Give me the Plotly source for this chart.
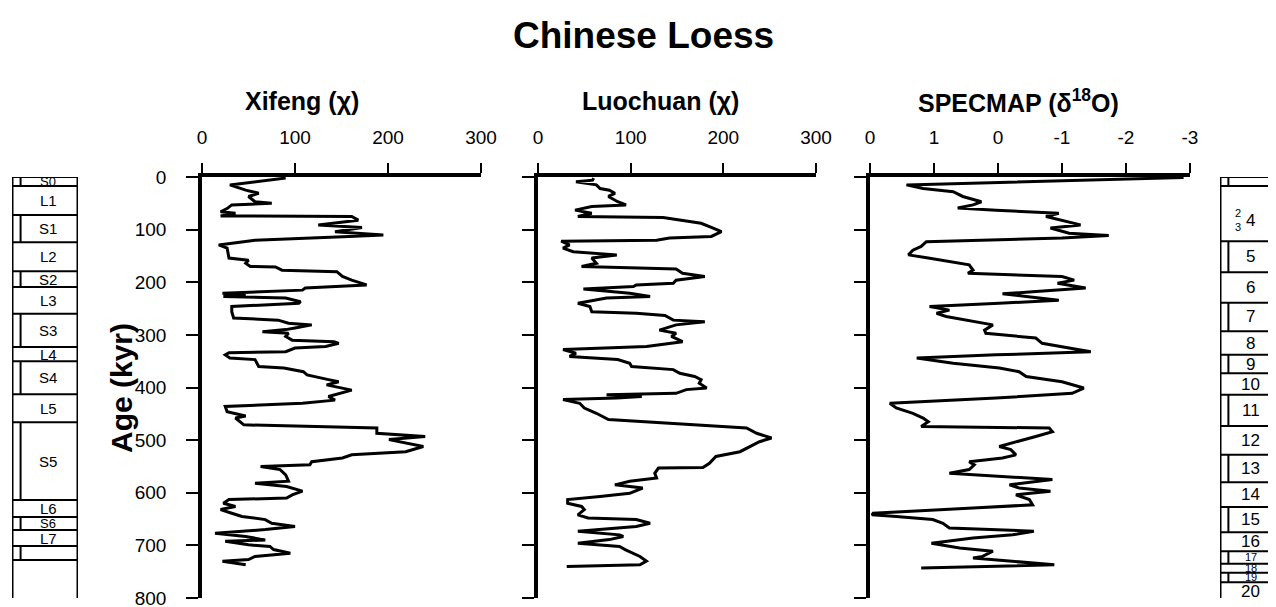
import plotly.graph_objects as go

# ---------------- data ----------------
xifeng_age = [2, 12, 15, 25, 31, 37, 47, 50, 53, 60, 66, 69, 74, 75, 82, 91, 96, 104, 107, 110, 113, 120, 129, 135,
              154, 158, 164, 170, 171, 177, 180, 189, 196, 205, 211, 215, 221, 224, 227, 230, 237, 240, 246, 256,
              268, 272, 278, 281, 287, 290, 294, 297, 303, 310, 313, 316, 322, 325, 332, 334, 338, 344, 347, 354,
              360, 363, 370, 376, 379, 385, 389, 395, 405, 411, 417, 424, 430, 436, 446, 454, 458, 471, 477, 487,
              493, 499, 506, 512, 522, 528, 534, 541, 547, 550, 556, 566, 578, 582, 588, 597, 604, 610, 613, 620,
              626, 632, 639, 645, 651, 658, 664, 670, 677, 683, 690, 692, 699, 702, 708, 715, 721, 727, 730, 737]
xifeng_chi = [90, 45, 30, 47, 61, 50, 57, 75, 32, 27, 20, 36, 20, 161, 168, 125, 172, 143, 174, 195, 158, 57, 18, 27,
              29, 50, 47, 52, 79, 86, 145, 151, 161, 177, 111, 108, 22, 47, 23, 90, 106, 104, 32, 32,
              34, 82, 93, 118, 100, 90, 65, 93, 90, 97, 142, 147, 133, 100, 90, 29, 25, 30, 57, 59,
              61, 88, 109, 113, 122, 136, 147, 134, 161, 147, 136, 143, 108, 25, 27, 47, 36, 45, 188, 188,
              240, 201, 222, 238, 219, 161, 151, 118, 116, 63, 84, 90, 93, 57, 91, 108, 97, 91, 29, 23,
              36, 20, 32, 43, 68, 75, 100, 68, 14, 47, 68, 25, 50, 73, 77, 95, 57, 50, 22, 47]

luochuan_age = [2, 6, 9, 15, 22, 25, 31, 37, 47, 53, 56, 63, 69, 75, 77, 82, 88, 97, 104, 113, 116, 120, 122, 129,
                135, 142, 148, 154, 164, 170, 175, 183, 189, 196, 202, 205, 208, 213, 221, 227, 230, 240, 246,
                256, 259, 263, 272, 275, 281, 291, 297, 303, 313, 322, 328, 335, 341, 347, 354, 360, 366, 373,
                379, 385, 392, 401, 404, 411, 414, 417, 420, 423, 430, 439, 449, 461, 477, 487, 496, 503, 522,
                531, 544, 552, 553, 563, 572, 578, 585, 591, 601, 607, 613, 620, 626, 632, 642, 648, 651, 658,
                664, 673, 680, 683, 689, 696, 702, 708, 721, 730, 737, 740]
luochuan_chi = [60, 59, 41, 63, 67, 77, 83, 76, 86, 95, 58, 40, 58, 43, 135, 156, 176, 189, 198, 187, 142, 128, 25, 34,
                27, 38, 85, 58, 63, 47, 149, 156, 180, 149, 146, 106, 103, 49, 99, 121, 74, 43, 56,
                58, 106, 137, 146, 180, 149, 131, 149, 144, 156, 117, 27, 41, 34, 86, 99, 101, 146, 153,
                169, 176, 174, 182, 160, 149, 74, 112, 85, 27, 45, 50, 63, 76, 225, 236, 252, 239, 218,
                192, 185, 178, 130, 126, 128, 99, 83, 113, 99, 67, 32, 32, 47, 50, 43, 54, 106, 121,
                106, 43, 88, 92, 77, 43, 88, 94, 110, 117, 110, 31]

specmap_age = [1, 15, 22, 28, 37, 47, 53, 59, 63, 69, 75, 82, 91, 97, 107, 111, 116, 123, 132, 139, 148, 154, 167,
               177, 183, 189, 196, 202, 211, 218, 222, 227, 234, 240, 246, 253, 259, 265, 275, 281, 291, 297,
               306, 316, 325, 332, 338, 344, 354, 363, 370, 379, 389, 401, 411, 420, 430, 439, 449, 458, 465,
               474, 477, 484, 493, 503, 512, 518, 528, 534, 541, 547, 556, 563, 569, 575, 585, 591, 597, 604,
               613, 623, 629, 639, 642, 645, 651, 658, 667, 673, 680, 686, 696, 705, 711, 721, 724, 730, 737, 743]
specmap_d18o = [-2.9, 1.43, 1.17, 0.70, 0.55, 0.26, 0.39, 0.63, 0.03, -0.95, -0.75, -1.0, -1.29, -0.82, -1.11, -1.73,
                -1.0, 1.12, 1.20, 1.33, 1.40, 1.09, 0.45, 0.39, 0.47, -1.0, -1.19, -0.93, -1.37, -0.54, -0.07,
                -0.44, -0.95, -0.02, 1.07, 0.76, 0.96, 0.81, 0.39, 0.08, 0.21, 0.19, -0.59, -0.69, -1.11, -1.45,
                0.03, 1.27, 0.70, -0.02, -0.33, -0.44, -1.0, -1.34, -1.16, 0.03, 1.69, 1.59, 1.33, 1.17, 1.09,
                1.20, -0.80, -0.85, -0.59, -0.28, -0.02, -0.20, -0.28, -0.07, 0.45, 0.37, 0.45, 0.76, 0.03, -0.85,
                -0.18, -0.33, -0.82, -0.28, -0.49, -0.54, 0.39, 1.95, 1.97, 1.59, 1.02, 0.86, 0.76, -0.56, -0.23,
                0.39, 1.04, 0.60, 0.08, 0.24, 0.39, -0.23, -0.88, 1.20]

age_ticks = [0, 100, 200, 300, 400, 500, 600, 700, 800]
chi_ticks = [0, 100, 200, 300]
specmap_tickvals = [2, 1, 0, -1, -2, -3]
specmap_ticktext = ["0", "1", "0", "-1", "-2", "-3"]

# loess-palaeosol units (box boundaries in kyr)
loess_labels = ["S0", "L1", "S1", "L2", "S2", "L3", "S3", "L4", "S4", "L5", "S5", "L6", "S6", "L7", ""]
loess_soil = [True, False, True, False, True, False, True, False, True, False, True, False, True, False, True]
loess_bounds = [0, 17, 72, 124, 179, 209, 260, 323, 350, 413, 466, 614, 646, 671, 701, 728]

# marine isotope stages (box boundaries in kyr)
mis_labels = ["", "4", "5", "6", "7", "8", "9", "10", "11", "12", "13", "14", "15", "16", "17", "18", "19", "20"]
mis_warm = [True, False, True, False, True, False, True, False, True, False, True, False, True, False, True, False,
            True, False]
mis_bounds = [0, 17, 122, 181, 239, 293, 338, 373, 414, 473, 528, 580, 627, 675, 711, 735, 752, 770, 800]

# ---------------- geometry ----------------
OX, OY = 8, 8          # page offset of the figure (body margin)
FW, FH = 1268, 599     # figure size
FONT = "Liberation Sans, Arial, sans-serif"


def fx(px):
    return min(max((px - OX) / FW, 0.0), 1.0)


def fy(py):
    return min(max(1 - (py - OY) / FH, 0.0), 1.0)


y_dom = [fy(598), fy(177)]

fig = go.Figure()
line = dict(color="black", width=3)
fig.add_trace(go.Scatter(x=xifeng_chi, y=xifeng_age, mode="lines", line=line, xaxis="x", yaxis="y"))
fig.add_trace(go.Scatter(x=luochuan_chi, y=luochuan_age, mode="lines", line=line, xaxis="x2", yaxis="y2"))
fig.add_trace(go.Scatter(x=specmap_d18o, y=specmap_age, mode="lines", line=line, xaxis="x3", yaxis="y3"))

tickfont = dict(family=FONT, size=19, color="black")
xcommon = dict(side="top", ticks="outside", ticklen=10, tickwidth=1.5, tickcolor="black", showline=True,
               linewidth=3.5, linecolor="black", showgrid=False, zeroline=False, tickfont=tickfont,
               ticklabelstandoff=12, automargin=False, ticklabeloverflow="allow")
ycommon = dict(domain=y_dom, range=[800, 0], tickvals=age_ticks, ticks="outside", ticklen=12, tickwidth=1.5,
               tickcolor="black", showline=True, linewidth=3.5, linecolor="black", showgrid=False, zeroline=False,
               tickfont=tickfont, automargin=False, ticklabeloverflow="allow")
hidden = dict(visible=False, automargin=False, showgrid=False, zeroline=False)

fig.update_layout(
    width=FW, height=FH, margin=dict(l=0, r=0, t=0, b=0, pad=0, autoexpand=False),
    paper_bgcolor="white", plot_bgcolor="rgba(0,0,0,0)", showlegend=False,
    xaxis=dict(domain=[fx(202), fx(481)], range=[0, 300], tickvals=chi_ticks, anchor="y", **xcommon),
    xaxis2=dict(domain=[fx(538), fx(816)], range=[0, 300], tickvals=chi_ticks, anchor="y2", **xcommon),
    xaxis3=dict(domain=[fx(870), fx(1190)], range=[2, -3], tickvals=specmap_tickvals, ticktext=specmap_ticktext,
                anchor="y3", **xcommon),
    xaxis4=dict(domain=[fx(12), fx(78)], range=[0, 1], anchor="y4", **hidden),
    xaxis5=dict(domain=[fx(1220), fx(1276)], range=[0, 1], anchor="y5", **hidden),
    yaxis=dict(anchor="x", showticklabels=True, ticklabelstandoff=16, **ycommon),
    yaxis2=dict(anchor="x2", showticklabels=False, **ycommon),
    yaxis3=dict(anchor="x3", showticklabels=False, **ycommon),
    yaxis4=dict(domain=y_dom, range=[800, 0], anchor="x4", **hidden),
    yaxis5=dict(domain=y_dom, range=[800, 0], anchor="x5", **hidden),
)

shapes = []
annotations = []
lc = dict(color="black", width=2)
thick = dict(color="black", width=3)

# left column: loess / palaeosol units
shapes.append(dict(type="line", xref="x4", yref="y4", x0=0, x1=0, y0=0, y1=800, line=thick))
shapes.append(dict(type="line", xref="x4", yref="y4", x0=1, x1=1, y0=0, y1=800, line=thick))
for b in loess_bounds:
    shapes.append(dict(type="line", xref="x4", yref="y4", x0=0, x1=1, y0=b, y1=b, line=lc))
for i, lab in enumerate(loess_labels):
    top, bot = loess_bounds[i], loess_bounds[i + 1]
    if loess_soil[i]:
        shapes.append(dict(type="line", xref="x4", yref="y4", x0=0.13, x1=0.13, y0=top, y1=bot, line=lc))
    if lab:
        size = 15 if (bot - top) > 25 else 13
        annotations.append(dict(xref="x4", yref="y4", x=0.55, y=(top + bot) / 2, text=lab, showarrow=False,
                                font=dict(family=FONT, size=size, color="black")))

# right column: marine isotope stages
shapes.append(dict(type="line", xref="x5", yref="y5", x0=0, x1=0, y0=0, y1=800, line=thick))
for b in mis_bounds[:-1]:
    shapes.append(dict(type="line", xref="x5", yref="y5", x0=0, x1=1, y0=b, y1=b, line=lc))
for i, lab in enumerate(mis_labels):
    top, bot = mis_bounds[i], mis_bounds[i + 1]
    if mis_warm[i]:
        shapes.append(dict(type="line", xref="x5", yref="y5", x0=0.15, x1=0.15, y0=top, y1=bot, line=lc))
    if not lab:
        continue
    yy = (top + bot) / 2
    size = 17
    if lab in ("17", "18", "19"):
        size = 11
    if lab == "20":
        yy = top + 17
    if lab == "4":
        yy = top + 0.62 * (bot - top)
        annotations.append(dict(xref="x5", yref="y5", x=0.33, y=yy, text="2<br>3", showarrow=False,
                                font=dict(family=FONT, size=11, color="black")))
    annotations.append(dict(xref="x5", yref="y5", x=0.55, y=yy, text=lab, showarrow=False,
                            font=dict(family=FONT, size=size, color="black")))


def pa(x, y, text, size, angle=0):
    return dict(xref="paper", yref="paper", x=fx(x), y=fy(y), text=f"<b>{text}</b>", showarrow=False,
                textangle=angle, xanchor="center", yanchor="middle", font=dict(family=FONT, size=size, color="black"))


annotations.append(pa(643, 35, "Chinese Loess", 37))
annotations.append(pa(302, 101, "Xifeng (χ)", 25))
annotations.append(pa(660, 101, "Luochuan (χ)", 25))
annotations.append(pa(1018, 101, "SPECMAP (δ<sup>18</sup>O)", 25))
annotations.append(pa(121, 388, "Age (kyr)", 30, angle=-90))

fig.update_layout(shapes=shapes, annotations=annotations)
fig.write_html("out.html")
